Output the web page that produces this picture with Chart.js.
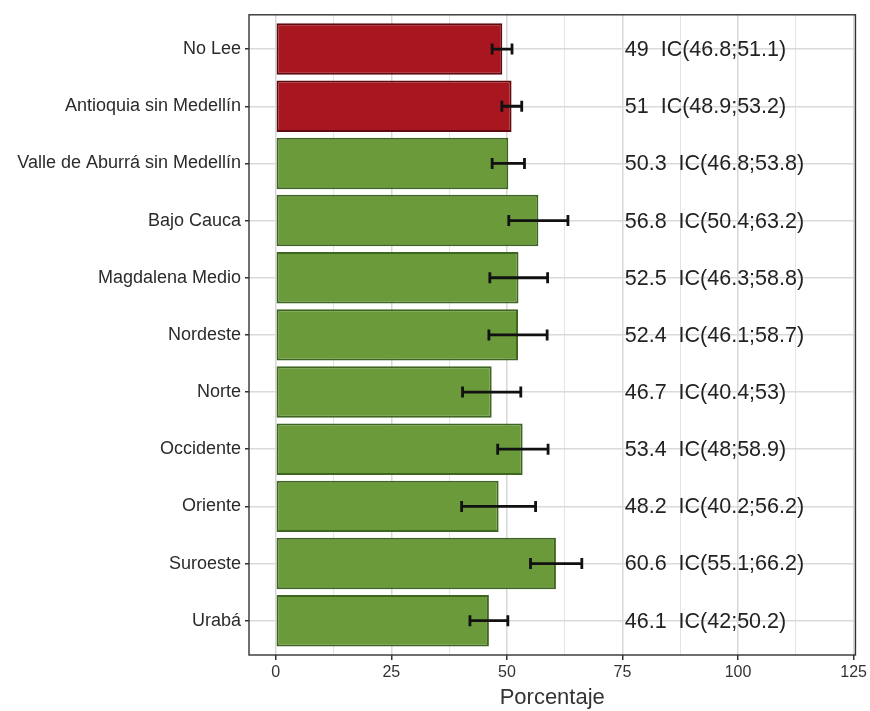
<!DOCTYPE html>
<html>
<head>
<meta charset="utf-8">
<script src="https://cdn.jsdelivr.net/npm/chart.js@4/dist/chart.umd.min.js"></script>
<style>
  html, body { margin: 0; padding: 0; background: #ffffff; }
  #wrap { width: 870px; height: 711px; }
</style>
</head>
<body>
<div id="wrap"><canvas id="c" width="870" height="711"></canvas></div>
<script>
// Porcentaje por subregión con intervalo de confianza
const categories = [
  'No Lee',
  'Antioquia sin Medellín',
  'Valle de Aburrá sin Medellín',
  'Bajo Cauca',
  'Magdalena Medio',
  'Nordeste',
  'Norte',
  'Occidente',
  'Oriente',
  'Suroeste',
  'Urabá'
];
const values = [49, 51, 50.3, 56.8, 52.5, 52.4, 46.7, 53.4, 48.2, 60.6, 46.1];
const lower  = [46.8, 48.9, 46.8, 50.4, 46.3, 46.1, 40.4, 48, 40.2, 55.1, 42];
const upper  = [51.1, 53.2, 53.8, 63.2, 58.8, 58.7, 53, 58.9, 56.2, 66.2, 50.2];
const group  = ['ref', 'ref', 'sub', 'sub', 'sub', 'sub', 'sub', 'sub', 'sub', 'sub', 'sub'];
const xMajorTicks = [0, 25, 50, 75, 100, 125];
const xMinorTicks = [12.5, 37.5, 62.5, 87.5, 112.5];

const FONT = '"Liberation Sans", Arial, Helvetica, sans-serif';
const fill   = { ref: '#a8161f', sub: '#6b9a3b' };
const stroke = { ref: '#5e0b10', sub: '#3f6620' };
const LABEL_AT = 75.5;   // where the value / interval text starts, in axis units

const isMajor = v => xMajorTicks.includes(v);

const errorBars = {
  id: 'errorBars',
  afterDatasetsDraw(chart) {
    const { ctx, scales: { x, y } } = chart;
    ctx.save();
    ctx.strokeStyle = '#111111';
    ctx.lineWidth = 2.8;
    ctx.lineCap = 'butt';
    categories.forEach((_, i) => {
      const yy = y.getPixelForValue(i);
      const x1 = x.getPixelForValue(lower[i]);
      const x2 = x.getPixelForValue(upper[i]);
      ctx.beginPath();
      ctx.moveTo(x1, yy); ctx.lineTo(x2, yy);
      ctx.moveTo(x1, yy - 5.5); ctx.lineTo(x1, yy + 5.5);
      ctx.moveTo(x2, yy - 5.5); ctx.lineTo(x2, yy + 5.5);
      ctx.stroke();
    });
    ctx.restore();
  }
};

const valueLabels = {
  id: 'valueLabels',
  afterDatasetsDraw(chart) {
    const { ctx, scales: { x, y } } = chart;
    ctx.save();
    ctx.font = '21.5px ' + FONT;
    ctx.fillStyle = '#222222';
    ctx.textAlign = 'left';
    ctx.textBaseline = 'middle';
    const xx = x.getPixelForValue(LABEL_AT);
    categories.forEach((_, i) => {
      const txt = String(values[i]) + '  IC(' + String(lower[i]) + ';' + String(upper[i]) + ')';
      ctx.fillText(txt, xx, y.getPixelForValue(i) + 1);
    });
    ctx.restore();
  }
};

const panelBorder = {
  id: 'panelBorder',
  afterDraw(chart) {
    const { ctx, chartArea: a } = chart;
    ctx.save();
    ctx.strokeStyle = '#333333';
    ctx.lineWidth = 1.4;
    ctx.strokeRect(a.left, a.top, a.right - a.left, a.bottom - a.top);
    ctx.restore();
  }
};

new Chart(document.getElementById('c'), {
  type: 'bar',
  data: {
    datasets: [{
      data: values.map((v, i) => ({ x: v, y: i })),
      backgroundColor: group.map(g => fill[g]),
      borderColor: group.map(g => stroke[g]),
      borderWidth: 2,
      borderSkipped: false,
      categoryPercentage: 0.9,
      barPercentage: 1.0
    }]
  },
  options: {
    indexAxis: 'y',
    responsive: false,
    animation: false,
    devicePixelRatio: 1,
    layout: { padding: { top: 13, right: 13, left: 0, bottom: 0 } },
    plugins: { legend: { display: false }, tooltip: { enabled: false } },
    scales: {
      x: {
        type: 'linear',
        min: -5.8,
        max: 125.4,
        afterBuildTicks: s => {
          s.ticks = xMajorTicks.concat(xMinorTicks).sort((a, b) => a - b).map(v => ({ value: v }));
        },
        afterFit: s => { s.height = 56; },
        ticks: {
          autoSkip: false,
          maxRotation: 0,
          padding: 3,
          color: '#333333',
          font: { family: FONT, size: 16 },
          callback: v => (isMajor(v) ? String(v) : '')
        },
        grid: {
          offset: false,
          color: c => (c.tick && isMajor(c.tick.value) ? '#d8d8d8' : '#e4e4e4'),
          lineWidth: c => (c.tick && isMajor(c.tick.value) ? 1.5 : 1),
          tickColor: c => (c.tick && isMajor(c.tick.value) ? '#333333' : 'rgba(0,0,0,0)'),
          tickLength: 5
        },
        border: { display: false },
        title: {
          display: true,
          text: 'Porcentaje',
          color: '#333333',
          font: { family: FONT, size: 22 },
          padding: { top: 0, bottom: 0 }
        }
      },
      y: {
        type: 'linear',
        reverse: true,
        offset: false,
        min: -0.6,
        max: 10.6,
        afterBuildTicks: s => { s.ticks = categories.map((_, i) => ({ value: i })); },
        afterFit: s => { s.width = 249; },
        ticks: {
          autoSkip: false,
          padding: 4,
          color: '#2b2b2b',
          font: { family: FONT, size: 18 },
          callback: v => categories[v]
        },
        grid: {
          offset: false,
          color: '#dadada',
          lineWidth: 1.5,
          tickColor: '#333333',
          tickLength: 4
        },
        border: { display: false }
      }
    }
  },
  plugins: [errorBars, valueLabels, panelBorder]
});
</script>
</body>
</html>
